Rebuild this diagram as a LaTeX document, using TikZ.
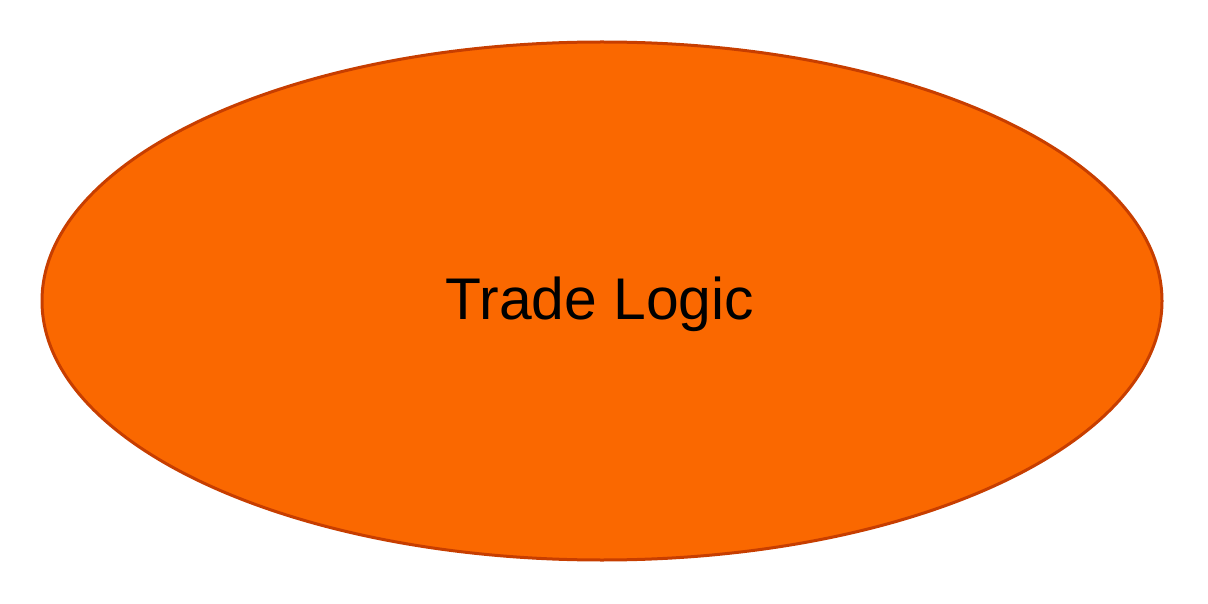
\documentclass[tikz,border=0pt]{standalone}
\usepackage{fontspec}
\setmainfont{Liberation Sans}
\definecolor{ellfill}{HTML}{FA6800}
\definecolor{elldraw}{HTML}{C73E00}
\usetikzlibrary{shapes.geometric}
\begin{document}
\begin{tikzpicture}[x=1pt,y=-1pt,
  blob/.style={ellipse, fill=ellfill, draw=elldraw, line width=3pt,
    minimum width=1120pt, minimum height=518pt, inner sep=0pt},
  lbl/.style={font=\fontsize{58.8}{70}\selectfont, text=black}]
\useasboundingbox (0,0) rectangle (1208,604);
\node[blob] (e) at (602,301) {};
\node[lbl] (t) at (600,304) {Trade Logic};
\end{tikzpicture}
\end{document}
